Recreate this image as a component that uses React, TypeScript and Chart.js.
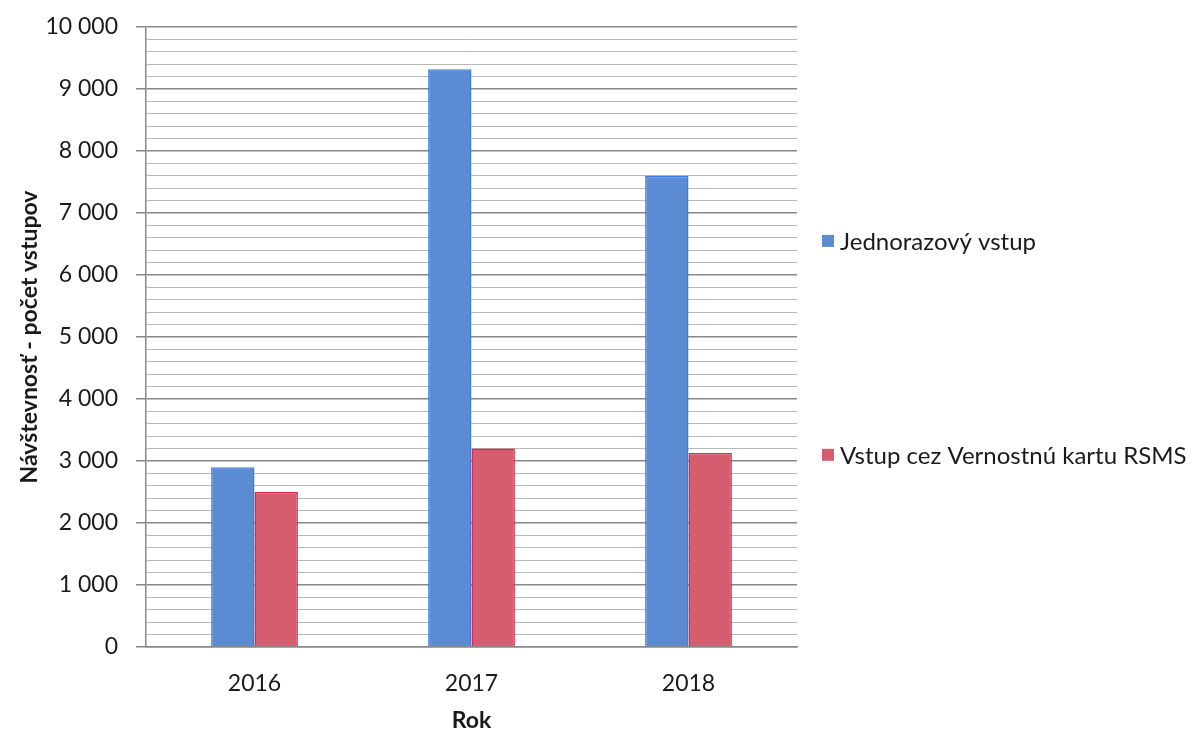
import React, { useEffect, useRef } from "react";
import { Chart, registerables } from "chart.js";

Chart.register(...registerables);

const categories = ["2016", "2017", "2018"];
const seriesNames = ["Jednorazový vstup", "Vstup cez Vernostnú kartu RSMS"];
const jednorazovy = [2900, 9320, 7600];
const vernostna = [2500, 3200, 3130];
const yMax = 10000;
const yStep = 200;
const yLabelStep = 1000;

const FONT = "Lato, 'Open Sans', sans-serif";
const BLUE_FILL = "#5b8bd3";
const BLUE_BORDER = "#3b7ee0";
const RED_FILL = "#d65d70";
const RED_BORDER = "#e2274a";

const fmt = (v: number) => {
  const s = String(Math.round(v));
  return s.replace(/\B(?=(\d{3})+(?!\d))/g, " ");
};

const sideLegend = {
  id: "sideLegend",
  afterDraw(chart: any) {
    const ctx = chart.ctx;
    const area = chart.chartArea;
    const yScale = chart.scales.y;
    const positions = [yScale.getPixelForValue(6550), yScale.getPixelForValue(3100)];
    ctx.save();
    ctx.font = `24px ${FONT}`;
    ctx.textBaseline = "middle";
    ctx.textAlign = "left";
    chart.data.datasets.forEach((ds: any, i: number) => {
      const x = area.right + 25;
      const y = positions[i];
      ctx.fillStyle = ds.backgroundColor;
      ctx.fillRect(x, y - 6, 12, 12);
      ctx.fillStyle = "#1a1a1a";
      ctx.fillText(ds.label, x + 18, y + 1);
    });
    ctx.restore();
  },
};

export default function App() {
  const ref = useRef<HTMLCanvasElement | null>(null);
  useEffect(() => {
    if (!ref.current) return;
    const chart = new Chart(ref.current, {
      type: "bar",
      data: {
        labels: categories,
        datasets: [
          {
            label: seriesNames[0],
            data: jednorazovy,
            backgroundColor: BLUE_FILL,
            borderColor: BLUE_BORDER,
            borderWidth: 1.5,
          },
          {
            label: seriesNames[1],
            data: vernostna,
            backgroundColor: RED_FILL,
            borderColor: RED_BORDER,
            borderWidth: 1.5,
          },
        ],
      },
      options: {
        animation: false,
        responsive: false,
        maintainAspectRatio: false,
        layout: { padding: { top: 27, right: 400, left: 16, bottom: 0 } },
        datasets: { bar: { categoryPercentage: 0.4, barPercentage: 1 } },
        plugins: {
          legend: { display: false },
          tooltip: { enabled: false },
        },
        scales: {
          x: {
            afterFit: (s: any) => {
              s.height = 88;
              s.paddingLeft = 0;
              s.paddingRight = 0;
            },
            grid: { display: false, drawTicks: false },
            border: { display: true, color: "#888", width: 1.5 },
            ticks: { color: "#1a1a1a", font: { family: FONT, size: 23 }, padding: 23 },
            title: {
              display: true,
              text: "Rok",
              color: "#1a1a1a",
              font: { family: FONT, size: 23, weight: "bold" },
              padding: { top: 0, bottom: 1 },
            },
          },
          y: {
            min: 0,
            max: yMax,
            afterFit: (s: any) => {
              s.width = 130;
              s.paddingTop = 0;
              s.paddingBottom = 0;
            },
            ticks: {
              stepSize: yStep,
              autoSkip: false,
              color: "#1a1a1a",
              font: { family: FONT, size: 23 },
              padding: 18,
              callback: (v: any) => (Number(v) % yLabelStep === 0 ? fmt(Number(v)) : ""),
            },
            grid: {
              color: (c: any) => (c.tick && c.tick.value % yLabelStep === 0 ? "#888888" : "#b8b8b8"),
              lineWidth: (c: any) => (c.tick && c.tick.value % yLabelStep === 0 ? 1.5 : 1),
              tickLength: 10,
              tickColor: (c: any) => (c.tick && c.tick.value % yLabelStep === 0 ? "#888" : "rgba(0,0,0,0)"),
            },
            border: { display: true, color: "#888", width: 1.5 },
            title: {
              display: true,
              text: "Návštevnosť - počet vstupov",
              color: "#1a1a1a",
              font: { family: FONT, size: 23, weight: "bold" },
              padding: { top: 0, bottom: 0 },
            },
          },
        },
      },
      plugins: [sideLegend],
    });
    return () => chart.destroy();
  }, []);
  return (
    <div style={{ position: "fixed", left: 0, top: 0, width: 1197, height: 735, background: "#fff" }}>
      <canvas ref={ref} width={1197} height={735} style={{ display: "block" }} />
    </div>
  );
}
